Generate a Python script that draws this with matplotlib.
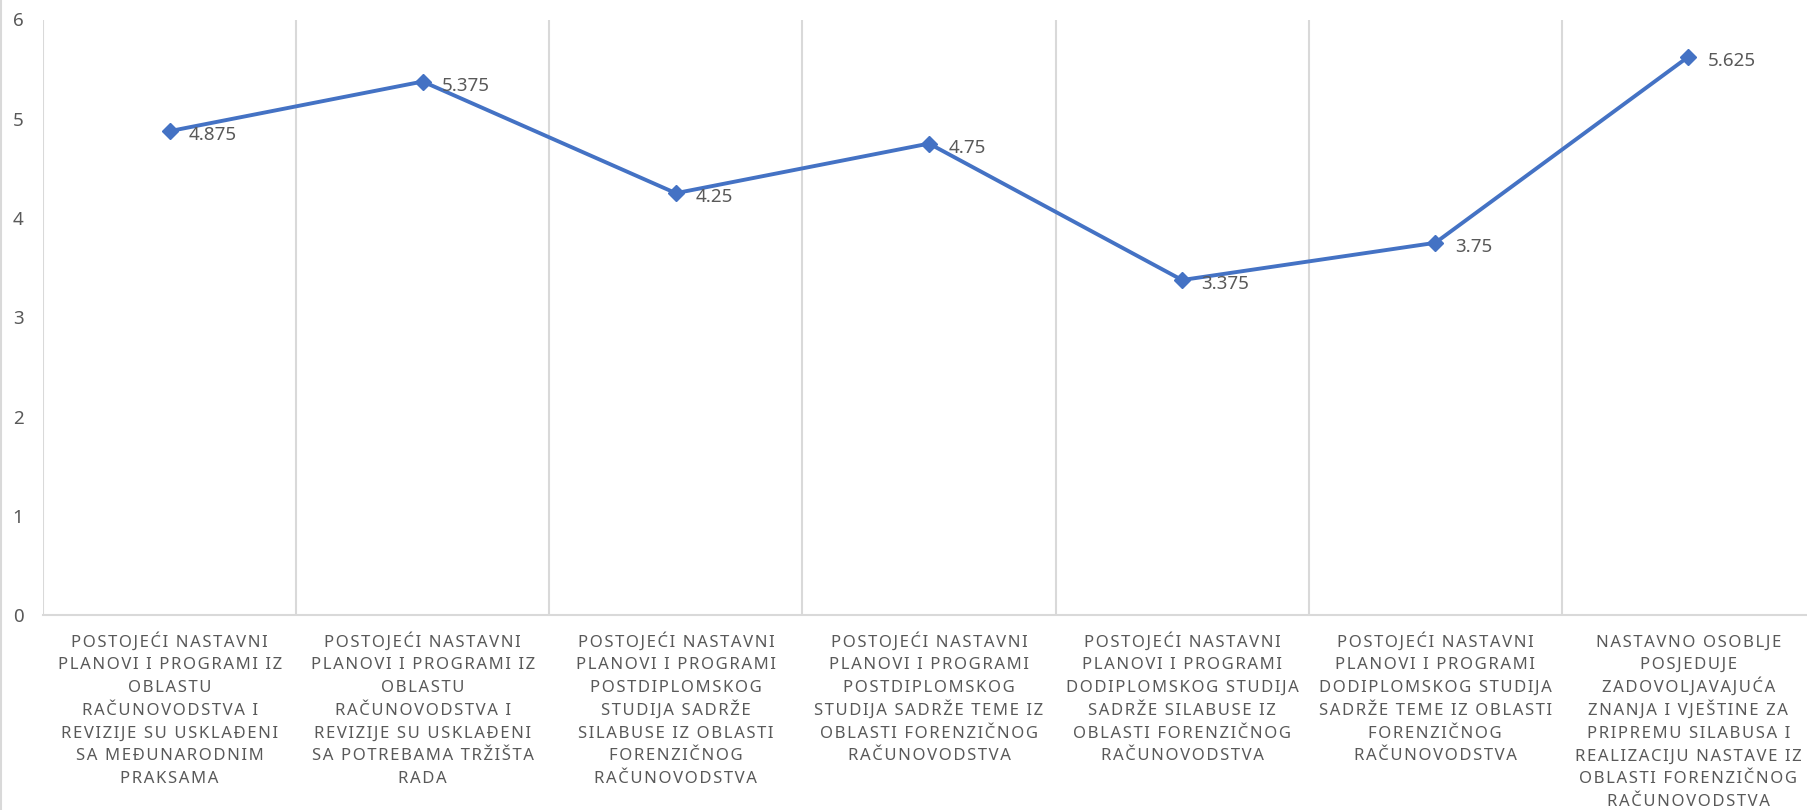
import matplotlib.pyplot as plt
from matplotlib.lines import Line2D

plt.rcParams['font.family'] = ['Noto Sans', 'DejaVu Sans']

categories = [
    "POSTOJEĆI NASTAVNI\nPLANOVI I PROGRAMI IZ\nOBLASTU\nRAČUNOVODSTVA I\nREVIZIJE SU USKLAĐENI\nSA MEĐUNARODNIM\nPRAKSAMA",
    "POSTOJEĆI NASTAVNI\nPLANOVI I PROGRAMI IZ\nOBLASTU\nRAČUNOVODSTVA I\nREVIZIJE SU USKLAĐENI\nSA POTREBAMA TRŽIŠTA\nRADA",
    "POSTOJEĆI NASTAVNI\nPLANOVI I PROGRAMI\nPOSTDIPLOMSKOG\nSTUDIJA SADRŽE\nSILABUSE IZ OBLASTI\nFORENZIČNOG\nRAČUNOVODSTVA",
    "POSTOJEĆI NASTAVNI\nPLANOVI I PROGRAMI\nPOSTDIPLOMSKOG\nSTUDIJA SADRŽE TEME IZ\nOBLASTI FORENZIČNOG\nRAČUNOVODSTVA",
    "POSTOJEĆI NASTAVNI\nPLANOVI I PROGRAMI\nDODIPLOMSKOG STUDIJA\nSADRŽE SILABUSE IZ\nOBLASTI FORENZIČNOG\nRAČUNOVODSTVA",
    "POSTOJEĆI NASTAVNI\nPLANOVI I PROGRAMI\nDODIPLOMSKOG STUDIJA\nSADRŽE TEME IZ OBLASTI\nFORENZIČNOG\nRAČUNOVODSTVA",
    "NASTAVNO OSOBLJE\nPOSJEDUJE\nZADOVOLJAVAJUĆA\nZNANJA I VJEŠTINE ZA\nPRIPREMU SILABUSA I\nREALIZACIJU NASTAVE IZ\nOBLASTI FORENZIČNOG\nRAČUNOVODSTVA",
]
values = [4.875, 5.375, 4.25, 4.75, 3.375, 3.75, 5.625]
value_labels = ["4.875", "5.375", "4.25", "4.75", "3.375", "3.75", "5.625"]
yticks = [0, 1, 2, 3, 4, 5, 6]

grey = '#595959'
grid = '#d9d9d9'
blue = '#4472C4'


def spaced(s):
    # letter spacing via hair spaces
    return '\u200a'.join(s)


fig = plt.figure(figsize=(18.08, 8.10), dpi=100)
ax = fig.add_axes([43 / 1808, 195 / 810, 1772 / 1808, 595.5 / 810])

x = list(range(len(values)))
ax.plot(x, values, color=blue, linewidth=2.8, marker='D', markersize=8,
        markerfacecolor=blue, markeredgecolor=blue, zorder=3)
for xi, v, lab in zip(x, values, value_labels):
    ax.annotate(lab, (xi, v), xytext=(14, -3), textcoords='offset points',
                ha='left', va='center', fontsize=13.5, color=grey)

ax.set_xlim(-0.5, len(values) - 0.5)
ax.set_ylim(0, 6)
ax.set_yticks(yticks)
ax.set_yticklabels([str(t) for t in yticks], fontsize=13.5, color=grey)
ax.tick_params(axis='y', length=0, pad=14)

for b in range(len(values) + 1):
    ax.axvline(b - 0.5, color=grid, linewidth=1.5, zorder=1)

# category labels, one text per line so the line pitch stays even
ax.set_xticks(x)
ax.set_xticklabels([''] * len(x))
ax.tick_params(axis='x', length=0)
for xi, cat in zip(x, categories):
    for j, line in enumerate(cat.split('\n')):
        ax.annotate(spaced(line), (xi, 0), xycoords=('data', 'axes fraction'),
                    xytext=(0, -22.7 - j * 16.4), textcoords='offset points',
                    ha='center', va='baseline', fontsize=12, color=grey,
                    annotation_clip=False)

for s in ['top', 'right', 'left']:
    ax.spines[s].set_visible(False)
ax.spines['bottom'].set_color(grid)
ax.spines['bottom'].set_linewidth(1.5)

fig.add_artist(Line2D([1 / 1808, 1 / 1808], [0, 1], transform=fig.transFigure,
                      color=grid, linewidth=1.5))

fig.savefig('out.png', dpi=100, facecolor='white')
